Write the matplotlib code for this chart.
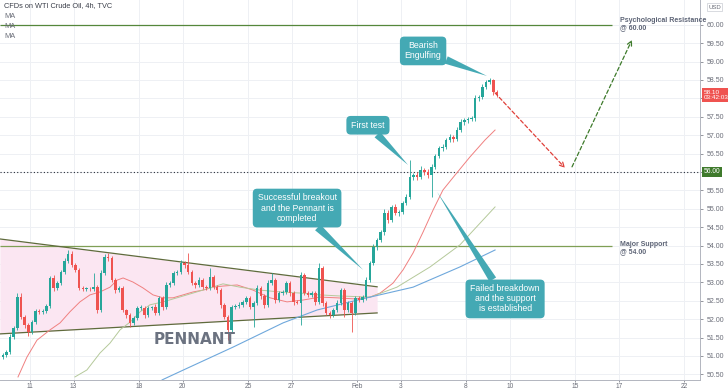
import matplotlib
matplotlib.use('Agg')
import matplotlib.pyplot as plt
import matplotlib.transforms as mtransforms
import numpy as np

# ---------------- data ----------------
first_open = 50.76
closes = [
    50.95, 50.97, 51.03, 51.11, 51.52, 51.76, 52.60, 52.06, 51.84, 51.65,
    51.92, 52.22, 52.20, 52.22, 52.36, 53.12, 52.85, 52.98, 53.28, 53.58,
    53.77, 53.47, 53.34, 52.85, 52.82, 52.83, 52.82, 52.88, 52.25, 53.26,
    53.69, 53.65, 53.07, 52.79, 52.85, 52.25, 52.11, 51.90, 52.03, 52.30,
    52.31, 52.11, 52.30, 52.32, 52.17, 52.58, 52.33, 52.93, 52.98, 53.26,
    53.28, 53.53, 53.47, 53.28, 52.98, 52.93, 53.07, 52.88, 52.85, 53.15,
    52.88, 52.79, 52.39, 52.06, 51.71, 52.33, 52.36, 52.39, 52.47, 52.58,
    52.33, 52.44, 52.85, 52.63, 52.39, 52.99, 53.07, 52.52, 52.71, 52.74,
    52.98, 52.71, 52.47, 52.45, 53.20, 52.71, 52.66, 52.71, 52.47, 53.39,
    52.44, 52.17, 52.11, 52.25, 52.44, 52.79, 52.25, 52.44, 52.17, 52.58,
    52.52, 52.60, 53.07, 53.53, 53.96, 54.15, 54.37, 54.89, 54.70, 55.05,
    54.89, 54.91, 55.16, 55.32, 55.86, 55.92, 55.86, 56.05, 56.00, 55.92,
    56.14, 56.43, 56.65, 56.68, 56.87, 56.95, 56.90, 57.14, 57.36, 57.40,
    57.44, 57.47, 58.01, 58.04, 58.31, 58.45, 58.50, 58.17, 58.09,
]
upper_wick = [
    .05, .04, .06, .05, .08, .06, .10, .12, .05, .06,
    .05, .07, .05, .06, .05, .06, .08, .05, .06, .07,
    .11, .08, .05, .06, .04, .05, .05, .38, .06, .07,
    .08, .10, .06, .05, .06, .05, .04, .05, .06, .05,
    .07, .05, .06, .05, .08, .06, .05, .07, .05, .06,
    .05, .07, .06, .33, .05, .06, .08, .05, .06, .24,
    .06, .05, .06, .05, .04, .06, .05, .07, .05, .06,
    .05, .06, .07, .05, .06, .08, .19, .06, .05, .06,
    .07, .05, .06, .05, .08, .06, .05, .06, .05, .14,
    .05, .06, .05, .06, .07, .05, .06, .05, .06, .05,
    .06, .05, .08, .06, .07, .05, .06, .10, .08, .06,
    .07, .05, .06, .08, .47, .06, .08, .10, .06, .08,
    .07, .06, .05, .07, .06, .08, .06, .07, .09, .06,
    .05, .06, .07, .06, .08, .05, .05, .04, .05,
]
lower_wick = [
    .05, .06, .05, .06, .05, .07, .05, .06, .08, .10,
    .06, .05, .07, .05, .06, .05, .08, .06, .05, .06,
    .05, .06, .07, .05, .06, .05, .06, .05, .08, .06,
    .05, .06, .07, .08, .05, .06, .07, .11, .06, .05,
    .06, .07, .05, .06, .07, .05, .08, .06, .05, .06,
    .05, .06, .07, .05, .06, .08, .05, .07, .06, .05,
    .06, .07, .08, .06, .27, .05, .06, .05, .07, .05,
    .06, .54, .05, .07, .08, .06, .05, .07, .06, .05,
    .06, .07, .08, .05, .61, .06, .07, .05, .08, .06,
    .07, .06, .08, .05, .06, .05, .19, .06, .52, .05,
    .06, .05, .07, .06, .05, .08, .06, .07, .09, .06,
    .07, .08, .06, .05, .06, .07, .08, .06, .07, .09,
    .60, .06, .05, .07, .06, .05, .08, .06, .05, .07,
    .06, .05, .08, .07, .06, .05, .06, .08, .05,
]
last_candle_day = 21.42   # trading-day position of the last candle (Jan 11 = 0)
candles_per_day = 6

# moving averages (trading day, price)
ma_fast_x = [-0.55, -0.14, 0.32, 0.92, 1.38, 1.83, 2.29, 2.75, 3.21, 3.67, 3.99, 4.27, 4.72,
             5.18, 5.64, 6.10, 6.56, 7.02, 7.48, 7.94, 8.39, 8.85, 9.50, 10.23, 11.01, 11.79,
             12.52, 13.30, 14.08, 14.91, 15.60, 16.06, 16.65, 17.11, 17.57, 18.03, 18.49,
             18.94, 19.50, 20.18, 20.87, 21.33]
ma_fast_y = [50.43, 50.97, 51.43, 51.71, 51.90, 52.20, 52.47, 52.66, 52.74, 52.87, 53.06, 53.12,
             53.01, 52.85, 52.66, 52.58, 52.58, 52.66, 52.74, 52.79, 52.87, 52.90, 52.93, 52.79,
             52.58, 52.47, 52.52, 52.60, 52.58, 52.55, 52.60, 52.71, 52.98, 53.34, 53.80, 54.37,
             54.97, 55.51, 55.92, 56.41, 56.87, 57.14]
ma_mid_x = [2.06, 2.61, 3.21, 3.67, 4.13, 4.59, 5.05, 5.50, 6.10, 6.74, 7.48, 8.26, 8.85, 9.63,
            10.55, 11.47, 12.39, 13.30, 14.22, 15.60, 16.83, 18.35, 19.72, 21.33]
ma_mid_y = [50.43, 50.62, 51.08, 51.35, 51.71, 51.92, 52.20, 52.39, 52.47, 52.58, 52.71, 52.85,
            52.96, 52.87, 52.79, 52.74, 52.71, 52.66, 52.63, 52.60, 52.87, 53.42, 54.02, 55.05]
ma_slow_x = [6.06, 6.93, 9.31, 11.61, 13.17, 14.68, 15.60, 17.57, 19.72, 21.33]
ma_slow_y = [50.35, 50.59, 51.24, 51.90, 52.25, 52.47, 52.60, 52.87, 53.42, 53.88]

# pennant boundaries
pennant_x = [-1.38, 15.92]
pennant_upper = [54.18, 52.88]
pennant_lower = [51.60, 52.17]

resistance = 60.00
support = 54.00
key_level = 56.00
last_price = 58.10

tick_days = [0, 2, 5, 7, 10, 12, 15, 17, 20, 22, 25, 27, 30]
tick_labels = ['11', '13', '18', '20', '25', '27', 'Feb', '3', '8', '10', '15', '17', '22']

# projected path (day, price)
down_path = [(21.33, 58.15), (24.54, 56.11)]
up_path = [(24.86, 56.14), (27.61, 59.59)]

# ---------------- style ----------------
UP = '#26a69a'
DN = '#ef5350'
TEAL = '#44a9b4'
TXT = '#5d6476'
plt.rcParams['font.family'] = ['Liberation Sans', 'DejaVu Sans']

fig = plt.figure(figsize=(7.28, 3.91), dpi=100)
ax = fig.add_axes([0, 11 / 391, 700 / 728, 380 / 391])
xmin, xmax = -1.376, 30.73
ymin, ymax = 50.347, 60.674
ax.set_xlim(xmin, xmax)
ax.set_ylim(ymin, ymax)

# grid
for d in tick_days:
    ax.axvline(d, color='#eef0f4', lw=0.7, zorder=0)
for p in np.arange(50.5, 60.01, 0.5):
    ax.axhline(p, color='#eef0f4', lw=0.7, zorder=0)

# pennant
ax.fill_between(pennant_x, pennant_lower, pennant_upper, color='#fbe6f2', zorder=1, lw=0)
ax.plot(pennant_x, pennant_upper, color='#5f6b3c', lw=0.9, zorder=3)
ax.plot(pennant_x, pennant_lower, color='#5f6b3c', lw=0.9, zorder=3)

# horizontal levels
label_day = 27.06
ax.hlines(resistance, xmin, 26.7, color='#55873b', lw=0.9, zorder=2)
ax.hlines(support, xmin, 26.7, color='#7f9f55', lw=0.9, zorder=2)
ax.axhline(key_level, color='#2a2e39', lw=0.8, ls=(0, (1, 2)), zorder=2)

# moving averages
ax.plot(ma_fast_x, ma_fast_y, color='#f08080', lw=0.7, zorder=4)
ax.plot(ma_mid_x, ma_mid_y, color='#b5c99a', lw=0.7, zorder=4)
ax.plot(ma_slow_x, ma_slow_y, color='#6fa8dc', lw=0.8, zorder=4)

# candles
n = len(closes)
opens = [first_open] + closes[:-1]
xs = [last_candle_day - (n - 1 - k) / candles_per_day for k in range(n)]
for k in range(n):
    o, c = opens[k], closes[k]
    col = UP if c >= o else DN
    hi = max(o, c) + upper_wick[k]
    lo = min(o, c) - lower_wick[k]
    ax.vlines(xs[k], lo, hi, color=col, lw=0.6, zorder=5)
    h = c - o
    if abs(h) < 0.02:
        h = 0.02 if h >= 0 else -0.02
    ax.bar(xs[k], h, bottom=o, width=0.115, color=col, lw=0, zorder=6)

# projected arrows
ax.annotate('', xy=down_path[1], xytext=down_path[0],
            arrowprops=dict(arrowstyle='->', color='#e0403a', lw=0.9, ls=(0, (3, 2)),
                            shrinkA=0, shrinkB=0, mutation_scale=8), zorder=7)
ax.annotate('', xy=up_path[1], xytext=up_path[0],
            arrowprops=dict(arrowstyle='->', color='#3d7a2a', lw=0.9, ls=(0, (3, 2)),
                            shrinkA=0, shrinkB=0, mutation_scale=8), zorder=7)

# callout bubbles
def bubble(text, xy, xytext):
    ax.annotate(text, xy=xy, xytext=xytext, ha='center', va='center', color='white',
                fontsize=6.3, zorder=8, linespacing=1.15,
                bbox=dict(boxstyle='round,pad=0.55,rounding_size=0.5', fc=TEAL, ec='none'),
                arrowprops=dict(arrowstyle='wedge,tail_width=0.9,shrink_factor=0.5', fc=TEAL,
                                ec='none', shrinkA=0, shrinkB=0))

bubble('Bearish\nEngulfing', (20.96, 58.61), (18.03, 59.29))
bubble('First test', (17.34, 56.19), (15.50, 57.27))
bubble('Successful breakout\nand the Pennant is\ncompleted', (15.28, 53.34), (12.25, 55.02))
bubble('Failed breakdown\nand the support\nis established', (18.67, 55.46), (21.79, 52.55))

# texts
ax.text(5.65, 51.33, 'PENNANT', fontsize=11, fontweight='bold', color='#6b7280', zorder=7,
        family=['DejaVu Sans'])
ax.text(label_day, 60.02, 'Psychological Resistance\n@ 60.00', fontsize=5.0, color=TXT,
        va='center', ha='left', linespacing=1.0, fontweight='bold')
ax.text(label_day, 53.93, 'Major Support\n@ 54.00', fontsize=5.0, color=TXT,
        va='center', ha='left', linespacing=1.0, fontweight='bold')

fig.text(4 / 728, 1 - 6 / 391, 'CFDs on WTI Crude Oil, 4h, TVC', fontsize=5.3,
         color='#3b3f4a', va='center')
for i in range(3):
    fig.text(4 / 728, 1 - (16 + 10 * i) / 391, 'MA', fontsize=5.3, color='#6a6d78', va='center')

# axes styling
for s in ['top', 'left']:
    ax.spines[s].set_visible(False)
for s in ['right', 'bottom']:
    ax.spines[s].set_color('#b2b5be')
    ax.spines[s].set_linewidth(0.7)
ax.yaxis.tick_right()
yt = np.arange(50.5, 60.01, 0.5)
ax.set_yticks(yt)
hidden = {key_level, 58.0}
ax.set_yticklabels(['' if round(v, 2) in hidden else '%.2f' % v for v in yt])
ax.set_xticks(tick_days)
ax.set_xticklabels(tick_labels)
ax.tick_params(axis='y', labelsize=5, colors='#6a6d78', length=2.5, width=0.5, pad=2)
ax.tick_params(axis='x', labelsize=4.8, colors='#6a6d78', length=1.5, width=0.5, pad=0.5)

# price tags on the axis
trans = mtransforms.blended_transform_factory(ax.transAxes, ax.transData)
ax.text(1.005, last_price, '%.2f\n03:42:03' % last_price, transform=trans, fontsize=4.6,
        color='white', va='center', ha='left', linespacing=1.1, zorder=10, clip_on=False,
        bbox=dict(boxstyle='square,pad=0.25', fc='#ef5350', ec='none'))
ax.text(1.005, key_level, '%.2f' % key_level, transform=trans, fontsize=4.8,
        color='white', va='center', ha='left', zorder=10, clip_on=False,
        bbox=dict(boxstyle='square,pad=0.25', fc='#3f7a2c', ec='none'))
ax.text(1.012, 60.48, 'USD', transform=trans, fontsize=4.3, color='#6a6d78', va='center',
        ha='left', zorder=10, clip_on=False,
        bbox=dict(boxstyle='square,pad=0.2', fc='white', ec='#c9ccd3', lw=0.5))

fig.savefig('out.png', dpi=100)
